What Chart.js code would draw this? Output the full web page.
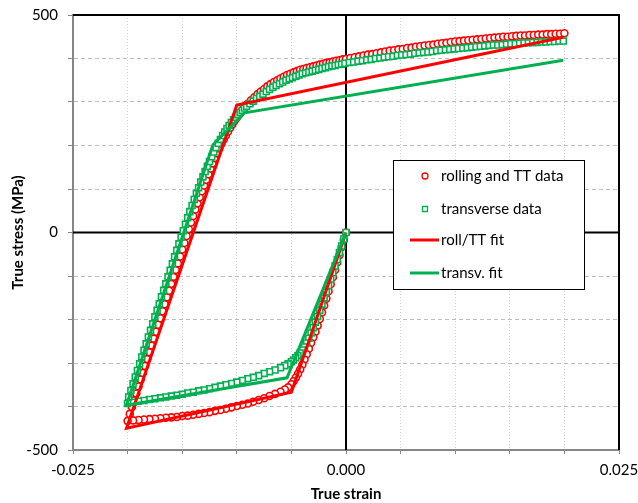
<!DOCTYPE html>
<html>
<head>
<meta charset="utf-8">
<script src="https://cdn.jsdelivr.net/npm/chart.js@4.4.1/dist/chart.umd.min.js"></script>
<style>
  html, body { margin: 0; padding: 0; background: #fff; }
</style>
</head>
<body>
<canvas id="c" width="638" height="503"></canvas>
<script>
const FONT = 'Lato, "Liberation Sans", sans-serif';

// axis ticks that carry a label
const xLabelTicks = [-0.025, 0, 0.025];
const yLabelTicks = [-500, 0, 500];

// rolling and TT data: [true strain, true stress MPa]
const rollUnload = [[0,0],[-0.0002,-17],[-0.0004,-34],[-0.0006,-52],[-0.0008,-69],[-0.001,-86],[-0.0012,-103],[-0.0014,-119],[-0.0016,-135],[-0.0018,-152],[-0.002,-168],[-0.0022,-184],[-0.0024,-199],[-0.0026,-214],[-0.0028,-228],[-0.003,-241],[-0.0032,-254],[-0.0034,-267],[-0.0036,-280],[-0.0038,-292],[-0.004,-304],[-0.0042,-315],[-0.0044,-325],[-0.0046,-334],[-0.0048,-342],[-0.005,-349],[-0.0053,-356]];
const rollCompress = [[-0.0056,-361],[-0.006,-366],[-0.0065,-371],[-0.007,-376],[-0.0075,-381],[-0.008,-385],[-0.0085,-389],[-0.009,-393],[-0.0095,-396],[-0.01,-399],[-0.0105,-402],[-0.011,-405],[-0.0115,-408],[-0.012,-410],[-0.0125,-413],[-0.013,-415],[-0.0135,-417],[-0.014,-419],[-0.0145,-421],[-0.015,-422],[-0.0155,-424],[-0.016,-425],[-0.0165,-426],[-0.017,-427],[-0.0175,-428],[-0.018,-429],[-0.0185,-430],[-0.019,-431],[-0.0195,-432],[-0.02,-433]];
const rollReverse = [[-0.0198,-417],[-0.0196,-401],[-0.0194,-386],[-0.0192,-370],[-0.019,-354],[-0.0188,-338],[-0.0186,-323],[-0.0184,-307],[-0.0182,-291],[-0.018,-275],[-0.0178,-260],[-0.0176,-244],[-0.0174,-228],[-0.0172,-212],[-0.017,-197],[-0.0168,-181],[-0.0166,-165],[-0.0164,-149],[-0.0162,-134],[-0.016,-118],[-0.0158,-102],[-0.0156,-86],[-0.0154,-71],[-0.0152,-55],[-0.015,-39],[-0.0148,-24],[-0.0146,-8],[-0.0144,8],[-0.0142,23],[-0.014,38],[-0.0138,53],[-0.0136,67],[-0.0134,81],[-0.0132,95],[-0.013,108],[-0.0128,121],[-0.0126,134],[-0.0124,147],[-0.0122,159],[-0.012,171],[-0.0118,182],[-0.0116,193],[-0.0114,204],[-0.0112,214],[-0.011,223],[-0.0108,232],[-0.0106,241],[-0.0104,249],[-0.0102,257],[-0.01,264],[-0.0098,271],[-0.0096,278],[-0.0094,284],[-0.0092,290],[-0.009,296]];
const rollReload = [[-0.0087,304],[-0.0084,311],[-0.0081,318],[-0.0078,324],[-0.0075,330],[-0.0072,336],[-0.0069,341],[-0.0066,346],[-0.0063,350],[-0.006,354],[-0.0057,358],[-0.0054,362],[-0.0051,365],[-0.0048,368],[-0.0045,371],[-0.0042,374],[-0.0039,376],[-0.0036,378],[-0.0033,380],[-0.003,382],[-0.0027,384],[-0.0024,386],[-0.0021,388],[-0.0018,390],[-0.0015,391],[-0.0012,393],[-0.0009,395],[-0.0006,396],[-0.0003,398],[0,399],[0.0004,401],[0.0008,403],[0.0012,405],[0.0016,407],[0.002,409],[0.0024,410],[0.0028,412],[0.0032,414],[0.0036,416],[0.004,418],[0.0044,419],[0.0048,421],[0.0052,422],[0.0056,424],[0.006,425],[0.0064,427],[0.0068,428],[0.0072,430],[0.0076,431],[0.008,432],[0.0084,434],[0.0088,435],[0.0092,436],[0.0096,438],[0.01,439],[0.0104,440],[0.0108,441],[0.0112,442],[0.0116,443],[0.012,444],[0.0124,445],[0.0128,446],[0.0132,447],[0.0136,448],[0.014,449],[0.0144,450],[0.0148,450],[0.0152,451],[0.0156,452],[0.016,453],[0.0164,453],[0.0168,454],[0.0172,454],[0.0176,455],[0.018,455],[0.0184,456],[0.0188,456],[0.0192,457],[0.0196,457],[0.02,458]];

// transverse data
const transUnload = [[0,0],[-0.0002,-15],[-0.0004,-31],[-0.0006,-46],[-0.0008,-62],[-0.001,-77],[-0.0012,-92],[-0.0014,-107],[-0.0016,-122],[-0.0018,-137],[-0.002,-151],[-0.0022,-165],[-0.0024,-179],[-0.0026,-193],[-0.0028,-206],[-0.003,-219],[-0.0032,-231],[-0.0034,-243],[-0.0036,-254],[-0.0038,-263],[-0.004,-270],[-0.0042,-277],[-0.0044,-283],[-0.0046,-288],[-0.0048,-293],[-0.005,-297],[-0.0053,-302]];
const transCompress = [[-0.0056,-306],[-0.006,-311],[-0.0065,-316],[-0.007,-320],[-0.0075,-324],[-0.008,-329],[-0.0085,-333],[-0.009,-336],[-0.0095,-340],[-0.01,-344],[-0.0105,-347],[-0.011,-350],[-0.0115,-353],[-0.012,-356],[-0.0125,-359],[-0.013,-362],[-0.0135,-364],[-0.014,-367],[-0.0145,-369],[-0.015,-372],[-0.0155,-374],[-0.016,-376],[-0.0165,-378],[-0.017,-380],[-0.0175,-382],[-0.018,-384],[-0.0185,-386],[-0.019,-388],[-0.0195,-390],[-0.02,-393]];
const transReverse = [[-0.0199,-378],[-0.0197,-363],[-0.0195,-348],[-0.0193,-332],[-0.0191,-317],[-0.0189,-302],[-0.0187,-286],[-0.0185,-271],[-0.0183,-256],[-0.0181,-240],[-0.0179,-225],[-0.0177,-210],[-0.0175,-194],[-0.0173,-179],[-0.0171,-164],[-0.0169,-148],[-0.0167,-133],[-0.0165,-118],[-0.0163,-102],[-0.0161,-87],[-0.0159,-72],[-0.0157,-56],[-0.0155,-41],[-0.0153,-26],[-0.0151,-11],[-0.0149,4],[-0.0147,19],[-0.0145,34],[-0.0143,48],[-0.0141,62],[-0.0139,76],[-0.0137,90],[-0.0135,103],[-0.0133,116],[-0.0131,128],[-0.0129,140],[-0.0127,152],[-0.0125,163],[-0.0123,174],[-0.0121,185],[-0.0119,195],[-0.0117,205],[-0.0115,214],[-0.0113,223],[-0.0111,231],[-0.0109,239],[-0.0107,246],[-0.0105,253],[-0.0103,259],[-0.0101,265],[-0.0099,271],[-0.0097,276],[-0.0095,281],[-0.0093,286],[-0.0091,290]];
const transReload = [[-0.0088,296],[-0.0085,302],[-0.0082,308],[-0.0079,313],[-0.0076,318],[-0.0073,324],[-0.007,329],[-0.0067,334],[-0.0064,338],[-0.0061,342],[-0.0058,346],[-0.0055,350],[-0.0052,353],[-0.0049,356],[-0.0046,359],[-0.0043,362],[-0.004,365],[-0.0037,367],[-0.0034,369],[-0.0031,371],[-0.0028,373],[-0.0025,375],[-0.0022,377],[-0.0019,379],[-0.0016,381],[-0.0013,383],[-0.001,384],[-0.0007,386],[-0.0004,387],[-0.0001,389],[0.0003,391],[0.0007,392],[0.0011,394],[0.0015,395],[0.0019,397],[0.0023,398],[0.0027,400],[0.0031,401],[0.0035,403],[0.0039,404],[0.0043,405],[0.0047,407],[0.0051,408],[0.0055,409],[0.0059,410],[0.0063,412],[0.0067,413],[0.0071,414],[0.0075,415],[0.0079,416],[0.0083,418],[0.0087,419],[0.0091,420],[0.0095,421],[0.0099,422],[0.0103,423],[0.0107,424],[0.0111,425],[0.0115,426],[0.0119,427],[0.0123,428],[0.0127,429],[0.0131,430],[0.0135,431],[0.0139,431],[0.0143,432],[0.0147,433],[0.0151,434],[0.0155,434],[0.0159,435],[0.0163,436],[0.0167,436],[0.0171,437],[0.0175,437],[0.0179,438],[0.0183,438],[0.0187,439],[0.0191,439],[0.0195,440],[0.0199,440]];

// model fits (polyline vertices)
const rollFit = [[0,0],[-0.005,-367],[-0.0201,-450],[-0.01,293],[0.0199,449]];
const transFit = [[0,0],[-0.0054,-334],[-0.0201,-397],[-0.0122,201],[-0.0093,275],[0.0199,396]];

const RED = '#ff0000';
const GREEN = '#00b050';

const pts = arr => arr.map(p => ({ x: p[0], y: p[1] }));
const near = (v, list, tol) => list.find(t => Math.abs(t - v) < tol);

// zero axes + black frame under the data, legend box on top
const framePlugin = {
  id: 'frame',
  beforeDatasetsDraw(chart) {
    const { ctx, chartArea: a, scales: { x, y } } = chart;
    const x0 = x.getPixelForValue(0), y0 = y.getPixelForValue(0);
    ctx.save();
    ctx.strokeStyle = '#000';
    ctx.lineWidth = 2;
    ctx.beginPath();
    ctx.moveTo(x0, a.top); ctx.lineTo(x0, a.bottom);
    ctx.moveTo(a.left, y0); ctx.lineTo(a.right, y0);
    ctx.moveTo(a.left, a.top); ctx.lineTo(a.right, a.top); ctx.lineTo(a.right, a.bottom);
    ctx.stroke();
    ctx.restore();
  },
  afterDraw(chart) {
    const ctx = chart.ctx;
    const ds = chart.data.datasets;
    const bx = 393, by = 160, bw = 191, bh = 129;
    ctx.save();
    ctx.fillStyle = '#fff';
    ctx.fillRect(bx, by, bw, bh);
    ctx.strokeStyle = '#000';
    ctx.lineWidth = 1;
    ctx.strokeRect(bx + 0.5, by + 0.5, bw, bh);
    const rows = [176, 209, 240, 273];
    ctx.font = '15px ' + FONT;
    ctx.textBaseline = 'middle';
    ds.forEach((d, i) => {
      const yy = rows[i];
      if (d.showLine) {
        ctx.strokeStyle = d.borderColor;
        ctx.lineWidth = d.borderWidth;
        ctx.beginPath(); ctx.moveTo(410, yy); ctx.lineTo(439, yy); ctx.stroke();
      } else {
        ctx.strokeStyle = d.borderColor;
        ctx.fillStyle = '#fff';
        ctx.lineWidth = 1.3;
        ctx.beginPath();
        if (d.pointStyle === 'rect') ctx.rect(425 - 2.5, yy - 2.5, 5, 5);
        else ctx.arc(425, yy, 3, 0, Math.PI * 2);
        ctx.fill(); ctx.stroke();
      }
      ctx.fillStyle = '#000';
      ctx.fillText(d.label, 441, yy);
    });
    ctx.restore();
  }
};

new Chart(document.getElementById('c'), {
  type: 'scatter',
  data: {
    datasets: [
      { label: 'rolling and TT data', data: pts([...rollUnload, ...rollCompress, ...rollReverse, ...rollReload]),
        pointStyle: 'circle', radius: 3.5, borderWidth: 1.6, borderColor: RED, backgroundColor: '#fff', order: 4 },
      { label: 'transverse data', data: pts([...transUnload, ...transCompress, ...transReverse, ...transReload]),
        pointStyle: 'rect', radius: 4.2, borderWidth: 1.6, borderColor: GREEN, backgroundColor: '#fff', order: 3 },
      { label: 'roll/TT fit', data: pts(rollFit), showLine: true, pointRadius: 0, borderWidth: 3,
        borderColor: RED, backgroundColor: RED, order: 2 },
      { label: 'transv. fit', data: pts(transFit), showLine: true, pointRadius: 0, borderWidth: 3,
        borderColor: GREEN, backgroundColor: GREEN, order: 1 },
    ],
  },
  options: {
    responsive: false,
    animation: false,
    devicePixelRatio: 1,
    layout: { padding: { top: 15, right: 19, left: 0, bottom: 0 } },
    plugins: { legend: { display: false }, tooltip: { enabled: false } },
    scales: {
      x: {
        type: 'linear', min: -0.025, max: 0.025,
        afterFit: s => { s.height = 53; s.paddingLeft = 0; s.paddingRight = 0; },
        ticks: {
          stepSize: 0.005, autoSkip: false, maxRotation: 0, padding: 7, color: '#000',
          font: { family: FONT, size: 15 },
          callback: v => { const t = near(v, xLabelTicks, 1e-6); return t === undefined ? '' : t.toFixed(3); },
        },
        grid: { color: '#d0d0d0', lineWidth: 1, tickLength: 4, tickColor: '#868686', tickBorderDash: [] },
        border: { color: '#868686', width: 2, dash: [1, 2] },
        title: { display: true, text: 'True strain', color: '#000', padding: { top: 0, bottom: 0 },
          font: { family: FONT, size: 15, weight: 'bold' } },
      },
      y: {
        min: -500, max: 500,
        afterFit: s => { s.width = 73; s.paddingTop = 0; s.paddingBottom = 0; },
        ticks: {
          stepSize: 100, autoSkip: false, padding: 10, color: '#000',
          font: { family: FONT, size: 15 },
          callback: v => { const t = near(v, yLabelTicks, 1e-6); return t === undefined ? '' : String(t); },
        },
        grid: { color: '#bdbdbd', lineWidth: 1, tickLength: 5, tickColor: '#868686', tickBorderDash: [] },
        border: { color: '#868686', width: 2, dash: [4, 3] },
        title: { display: true, text: 'True stress (MPa)', color: '#000', padding: { top: 9, bottom: 0 },
          font: { family: FONT, size: 15, weight: 'bold' } },
      },
    },
  },
  plugins: [framePlugin],
});
</script>
</body>
</html>
